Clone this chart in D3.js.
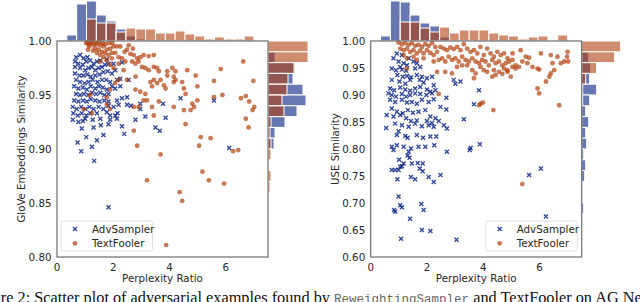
<!DOCTYPE html>
<html>
<head>
<meta charset="utf-8">
<script src="https://cdn.jsdelivr.net/npm/d3@7"></script>
<style>
  body { margin: 0; background: #fff; }
  svg text { font-family: "DejaVu Sans", sans-serif; fill: #262626; }
</style>
</head>
<body>
<svg id="chart" width="640" height="302"></svg>
<script>
// x ticks shared by both panels
const xTicks = [0, 2, 4, 6];
const gloveTicks = [0.80, 0.85, 0.90, 0.95, 1.00];
const useTicks = [0.60, 0.65, 0.70, 0.75, 0.80, 0.85, 0.90, 0.95, 1.00];

// left panel: [perplexity ratio, GloVe similarity]
const gloveAdv = [[0.68,0.985],[0.82,0.987],[0.94,0.984],[1.08,0.985],[0.64,0.981],[0.76,0.979],[0.92,0.978],[1.04,0.981],[1.18,0.982],[1.30,0.979],[1.42,0.981],[1.54,0.982],[1.77,0.983],[0.64,0.976],[0.82,0.975],[1.00,0.973],[1.12,0.975],[1.24,0.976],[1.36,0.973],[1.48,0.975],[1.60,0.976],[1.71,0.978],[1.83,0.979],[2.01,0.979],[2.31,0.980],[0.64,0.970],[0.80,0.968],[0.94,0.968],[1.08,0.969],[1.20,0.967],[1.36,0.968],[1.51,0.969],[1.65,0.971],[1.80,0.972],[1.95,0.970],[2.07,0.973],[0.68,0.964],[0.82,0.962],[0.98,0.961],[1.12,0.962],[1.27,0.964],[1.44,0.962],[1.60,0.964],[1.75,0.964],[1.89,0.962],[2.13,0.964],[2.25,0.965],[2.55,0.964],[0.61,0.958],[0.76,0.956],[0.92,0.957],[1.06,0.955],[1.20,0.958],[1.36,0.956],[1.49,0.958],[1.63,0.957],[1.77,0.955],[1.95,0.958],[2.07,0.956],[2.25,0.958],[0.68,0.951],[0.82,0.950],[0.96,0.951],[1.11,0.950],[1.24,0.952],[1.39,0.951],[1.54,0.952],[1.68,0.950],[1.83,0.951],[0.61,0.945],[0.76,0.944],[0.92,0.945],[1.06,0.944],[1.20,0.946],[1.36,0.945],[1.51,0.944],[1.68,0.945],[1.83,0.944],[2.13,0.945],[2.31,0.947],[2.49,0.948],[0.56,0.939],[0.70,0.937],[0.86,0.939],[1.01,0.937],[1.15,0.939],[1.30,0.937],[1.48,0.939],[1.65,0.937],[1.83,0.940],[2.01,0.939],[2.19,0.941],[2.49,0.941],[2.63,0.940],[2.96,0.942],[0.58,0.933],[0.74,0.931],[0.88,0.933],[1.04,0.931],[1.18,0.933],[1.42,0.933],[1.77,0.934],[1.89,0.931],[2.07,0.931],[2.15,0.933],[0.56,0.927],[0.76,0.925],[0.92,0.926],[1.00,0.928],[1.27,0.927],[1.54,0.928],[1.89,0.927],[2.13,0.928],[2.79,0.927],[3.14,0.930],[3.86,0.929],[3.77,0.942],[2.96,0.937],[4.39,0.947],[5.58,0.945],[0.88,0.919],[1.30,0.920],[1.56,0.922],[1.83,0.923],[2.31,0.921],[3.50,0.920],[3.65,0.917],[1.04,0.911],[1.42,0.908],[1.65,0.913],[2.39,0.914],[0.73,0.906],[1.24,0.902],[6.12,0.901],[0.86,0.898],[1.32,0.889],[1.83,0.846]];
const gloveTF = [[1.04,0.998],[1.12,0.997],[1.20,0.998],[1.30,0.996],[1.42,0.997],[1.54,0.996],[1.65,0.995],[1.15,0.995],[1.36,0.993],[1.48,0.992],[1.60,0.990],[1.71,0.989],[1.77,0.992],[1.89,0.993],[2.01,0.995],[2.13,0.995],[2.25,0.995],[2.49,0.992],[1.42,0.989],[1.54,0.987],[1.83,0.987],[1.95,0.989],[2.07,0.989],[2.19,0.985],[2.31,0.984],[2.61,0.988],[2.73,0.987],[2.85,0.984],[2.96,0.985],[3.08,0.987],[3.26,0.986],[3.44,0.987],[2.43,0.981],[2.67,0.981],[2.79,0.979],[2.90,0.981],[1.54,0.981],[1.77,0.982],[1.89,0.978],[2.19,0.979],[2.01,0.975],[2.37,0.973],[3.02,0.976],[3.14,0.975],[3.26,0.973],[3.44,0.976],[3.56,0.975],[3.62,0.972],[3.92,0.972],[4.10,0.975],[4.21,0.972],[4.15,0.967],[3.92,0.968],[3.68,0.964],[3.44,0.964],[3.56,0.961],[3.32,0.962],[2.79,0.967],[2.49,0.964],[2.19,0.964],[2.07,0.961],[1.89,0.955],[1.77,0.948],[2.79,0.955],[2.96,0.953],[3.14,0.951],[3.08,0.945],[3.20,0.945],[3.38,0.958],[3.80,0.959],[3.86,0.956],[4.15,0.962],[4.21,0.964],[4.45,0.962],[4.51,0.956],[4.57,0.951],[4.63,0.973],[4.93,0.968],[4.99,0.958],[4.81,0.942],[4.87,0.939],[4.99,0.945],[4.75,0.936],[4.51,0.936],[4.15,0.939],[3.62,0.944],[3.38,0.939],[2.90,0.939],[2.73,0.939],[3.44,0.931],[1.89,0.937],[1.77,0.941],[1.24,0.933],[1.18,0.950],[0.94,0.937],[5.58,0.963],[5.82,0.974],[5.58,0.948],[5.88,0.950],[6.54,0.947],[6.71,0.949],[6.83,0.944],[7.01,0.939],[6.95,0.936],[6.98,0.963],[6.62,0.981],[6.71,0.928],[6.81,0.920],[4.57,0.923],[5.11,0.911],[5.46,0.910],[2.73,0.917],[2.85,0.903],[5.05,0.903],[6.26,0.898],[6.44,0.899],[3.68,0.895],[3.20,0.871],[5.17,0.879],[5.40,0.871],[5.94,0.868],[4.36,0.860],[4.45,0.852],[3.88,0.811],[1.08,0.999],[1.25,0.999],[1.36,0.998],[1.50,0.999],[1.62,0.998],[1.72,0.997],[1.85,0.998],[1.97,0.998],[1.28,0.991],[1.10,0.992],[1.66,0.985],[1.95,0.984],[2.40,0.990],[2.70,0.993],[2.55,0.996]];

// right panel: [perplexity ratio, USE similarity]
const useAdv = [[0.93,0.977],[1.11,0.974],[1.35,0.968],[0.81,0.968],[0.99,0.962],[1.17,0.959],[1.05,0.952],[1.29,0.955],[1.52,0.962],[1.64,0.959],[0.75,0.949],[0.90,0.946],[1.11,0.947],[1.26,0.945],[1.58,0.949],[1.76,0.952],[0.95,0.937],[1.14,0.934],[1.29,0.935],[1.43,0.933],[1.64,0.937],[1.82,0.934],[2.00,0.931],[2.18,0.934],[0.75,0.928],[1.02,0.925],[1.23,0.921],[1.40,0.928],[1.74,0.928],[1.88,0.923],[2.24,0.918],[2.95,0.928],[3.19,0.925],[3.01,0.921],[0.69,0.912],[0.83,0.909],[1.05,0.914],[1.23,0.910],[1.40,0.908],[1.58,0.912],[1.76,0.915],[2.00,0.910],[2.12,0.906],[2.30,0.909],[0.63,0.903],[0.75,0.900],[0.90,0.897],[1.11,0.902],[1.26,0.897],[1.40,0.900],[1.58,0.903],[1.76,0.902],[1.98,0.900],[2.18,0.903],[2.69,0.895],[0.69,0.891],[0.87,0.887],[1.11,0.891],[1.29,0.886],[1.46,0.887],[1.64,0.884],[1.82,0.891],[2.06,0.887],[2.24,0.892],[2.48,0.878],[0.75,0.875],[0.93,0.869],[1.14,0.866],[1.32,0.872],[1.50,0.867],[1.70,0.869],[1.94,0.872],[2.12,0.860],[2.30,0.857],[2.69,0.873],[3.31,0.855],[3.67,0.883],[3.85,0.909],[0.57,0.863],[0.81,0.860],[1.05,0.863],[1.26,0.857],[1.43,0.852],[1.64,0.853],[2.00,0.852],[2.18,0.848],[2.42,0.852],[0.87,0.847],[1.11,0.844],[1.35,0.841],[1.58,0.847],[1.82,0.842],[2.06,0.844],[2.24,0.841],[2.60,0.844],[2.71,0.838],[0.55,0.839],[0.99,0.833],[0.93,0.826],[1.23,0.824],[1.31,0.821],[1.64,0.826],[1.86,0.821],[2.12,0.823],[2.33,0.823],[0.75,0.804],[0.93,0.807],[1.17,0.804],[1.43,0.801],[1.70,0.804],[1.94,0.804],[2.26,0.807],[3.55,0.802],[3.88,0.809],[0.81,0.798],[1.35,0.795],[2.71,0.795],[3.52,0.798],[1.01,0.780],[1.31,0.788],[1.38,0.784],[1.46,0.773],[1.17,0.773],[1.05,0.767],[0.75,0.761],[0.87,0.761],[0.99,0.761],[1.11,0.768],[1.67,0.774],[1.85,0.773],[1.74,0.764],[1.85,0.759],[0.95,0.744],[1.43,0.748],[1.58,0.744],[2.06,0.748],[2.24,0.739],[2.48,0.752],[5.63,0.752],[6.05,0.764],[0.99,0.712],[1.05,0.696],[1.11,0.692],[0.83,0.687],[0.87,0.684],[1.80,0.698],[1.88,0.687],[1.40,0.671],[1.82,0.650],[2.12,0.648],[1.08,0.634],[3.05,0.632],[6.23,0.675]];
const useTF = [[0.99,0.997],[1.11,0.994],[1.23,0.996],[1.35,0.993],[1.46,0.996],[1.58,0.991],[1.70,0.993],[1.82,0.989],[1.94,0.994],[2.06,0.991],[2.18,0.996],[2.30,0.989],[1.05,0.986],[1.17,0.983],[1.29,0.986],[1.40,0.980],[1.52,0.983],[1.64,0.977],[1.76,0.982],[1.88,0.977],[2.00,0.983],[2.12,0.978],[2.24,0.974],[2.36,0.980],[2.48,0.989],[2.60,0.986],[2.71,0.983],[2.83,0.988],[2.95,0.985],[3.07,0.989],[3.19,0.983],[3.31,0.994],[3.43,0.986],[3.55,0.980],[3.67,0.983],[3.79,0.977],[3.90,0.989],[4.02,0.974],[4.14,0.986],[4.26,0.977],[4.38,0.971],[4.50,0.980],[4.62,0.974],[4.74,0.977],[4.86,0.968],[5.04,0.977],[5.33,0.983],[5.51,0.971],[5.63,0.969],[6.05,0.977],[6.40,0.974],[6.64,0.971],[7.00,0.980],[6.98,0.971],[7.02,0.962],[1.29,0.968],[1.64,0.965],[1.88,0.968],[2.24,0.962],[2.42,0.965],[2.54,0.968],[2.65,0.962],[2.77,0.971],[2.89,0.965],[3.01,0.968],[3.13,0.962],[3.25,0.971],[3.37,0.965],[3.49,0.962],[3.61,0.968],[3.73,0.962],[3.85,0.959],[3.96,0.965],[4.08,0.962],[4.20,0.955],[4.32,0.965],[4.44,0.959],[4.56,0.962],[4.68,0.955],[4.80,0.959],[4.92,0.962],[5.04,0.965],[5.15,0.955],[5.27,0.952],[5.39,0.962],[5.57,0.959],[5.75,0.952],[5.93,0.949],[5.99,0.947],[6.46,0.959],[6.52,0.946],[6.76,0.959],[6.88,0.962],[3.07,0.952],[3.25,0.955],[3.43,0.955],[3.61,0.946],[3.73,0.940],[3.90,0.952],[4.02,0.946],[4.14,0.943],[4.38,0.946],[4.56,0.943],[4.74,0.949],[4.86,0.946],[5.04,0.952],[1.29,0.949],[2.36,0.943],[2.65,0.943],[2.89,0.940],[3.67,0.931],[4.32,0.934],[4.44,0.937],[4.68,0.939],[4.86,0.943],[4.98,0.934],[5.15,0.949],[6.40,0.940],[6.35,0.934],[6.23,0.925],[5.93,0.912],[5.99,0.903],[2.42,0.902],[3.90,0.884],[3.99,0.886],[3.85,0.881],[4.36,0.872],[6.70,0.881],[1.52,0.971],[1.17,0.974],[5.39,0.735]];

// marginal histograms (counts)
const topBinStart = 0.35, topBinWidth = 0.35;
const gloveTopAdv = [6, 37, 40, 26, 20, 12, 5, 2, 1, 1, 0, 0, 0, 0, 0, 0, 1, 0, 0];
const gloveTopTF  = [0, 0, 22, 18, 18, 9, 13, 12, 12, 8, 8, 10, 7, 5, 2, 4, 2, 2, 5];
const useTopAdv   = [5, 40, 39, 26, 18, 15, 4, 1, 1, 0, 0, 0, 0, 0, 0, 1, 0, 0, 0];
const useTopTF    = [0, 0, 19, 19, 13, 9, 14, 8, 11, 11, 11, 8, 6, 5, 2, 4, 5, 1, 6];
// side bins run downward from 1.00
const gloveSideAdv = [0, 7, 27, 25, 35, 38, 29, 17, 7, 6, 1, 0, 0, 0];
const gloveSideTF  = [40, 40, 26, 20, 19, 14, 16, 3, 2, 3, 3, 0, 3, 2];
const useSideAdv   = [0, 7, 9, 8, 15, 8, 4, 7, 4, 5, 2, 4, 3, 0, 0, 2, 0];
const useSideTF    = [39, 33, 15, 4, 1, 1, 0, 0, 0, 0, 0, 0, 0, 0, 0, 0, 0];

const blue = "#001c7f", orange = "#b1400d";

const svg = d3.select("#chart");
const plotTop = 41, plotBottom = 257;
const lenScale = d3.scaleLinear().domain([0, 40]).range([0, 40]);

function drawPanel(cfg) {
  const g = svg.append("g");
  const x = d3.scaleLinear().domain([0, 7.5]).range([cfg.left, cfg.left + 211]);
  const y = d3.scaleLinear().domain(cfg.yDomain).range([plotBottom, plotTop]);
  const right = x(7.5);

  // top histogram, blue first then orange over it
  [[cfg.topAdv, blue], [cfg.topTF, orange]].forEach(([counts, col]) => {
    g.append("g").selectAll("rect")
      .data(counts.map((c, i) => ({c, i})).filter(d => d.c > 0))
      .enter().append("rect")
      .attr("x", d => x(topBinStart + d.i * topBinWidth))
      .attr("width", d => x(topBinStart + (d.i + 1) * topBinWidth) - x(topBinStart + d.i * topBinWidth))
      .attr("y", d => plotTop - lenScale(d.c))
      .attr("height", d => lenScale(d.c))
      .attr("fill", col).attr("fill-opacity", 0.6)
      .attr("stroke", "#fff").attr("stroke-width", 1);
  });

  // side histogram
  [[cfg.sideAdv, blue], [cfg.sideTF, orange]].forEach(([counts, col]) => {
    g.append("g").selectAll("rect")
      .data(counts.map((c, i) => ({c, i})).filter(d => d.c > 0))
      .enter().append("rect")
      .attr("x", right)
      .attr("width", d => lenScale(d.c))
      .attr("y", d => y(1 - d.i * cfg.sideBin))
      .attr("height", d => y(1 - (d.i + 1) * cfg.sideBin) - y(1 - d.i * cfg.sideBin))
      .attr("fill", col).attr("fill-opacity", 0.6)
      .attr("stroke", "#fff").attr("stroke-width", 1);
  });

  // points
  g.append("g").selectAll("path")
    .data(cfg.adv).enter().append("path")
    .attr("transform", d => `translate(${x(d[0])},${y(d[1])})`)
    .attr("d", "M-2,-2L2,2M-2,2L2,-2")
    .attr("stroke", blue).attr("stroke-width", 1.4).attr("stroke-opacity", 0.8);

  g.append("g").selectAll("circle")
    .data(cfg.tf).enter().append("circle")
    .attr("cx", d => x(d[0])).attr("cy", d => y(d[1]))
    .attr("r", 2.4)
    .attr("fill", orange).attr("fill-opacity", 0.7);

  // frame
  g.append("rect")
    .attr("x", x(0)).attr("y", plotTop)
    .attr("width", right - x(0)).attr("height", plotBottom - plotTop)
    .attr("fill", "none").attr("stroke", "#6e6e6e").attr("stroke-width", 1.2);

  // tick labels
  g.selectAll(".xt").data(xTicks).enter().append("text")
    .attr("x", d => x(d)).attr("y", 270.5)
    .attr("text-anchor", "middle").attr("font-size", 10.3)
    .text(d => d);
  g.selectAll(".yt").data(cfg.yTicks).enter().append("text")
    .attr("x", x(0) - 5.5).attr("y", d => y(d))
    .attr("dy", "0.36em")
    .attr("text-anchor", "end").attr("font-size", 10.3)
    .text(d => d3.format(".2f")(d));

  g.append("text")
    .attr("x", (x(0) + right) / 2).attr("y", 281.5)
    .attr("text-anchor", "middle").attr("font-size", 10.3)
    .text("Perplexity Ratio");
  g.append("text")
    .attr("transform", `translate(${cfg.labelX},${(plotTop + plotBottom) / 2}) rotate(-90)`)
    .attr("text-anchor", "middle").attr("font-size", 10.2)
    .text(cfg.yLabel);

  // legend
  const lg = g.append("g").attr("transform", `translate(${cfg.legendX},221)`);
  lg.append("rect")
    .attr("width", 91.5).attr("height", 30).attr("rx", 2.5)
    .attr("fill", "#fff").attr("fill-opacity", 0.8)
    .attr("stroke", "#d6d6d6").attr("stroke-width", 0.8);
  lg.append("path")
    .attr("transform", "translate(14,8)")
    .attr("d", "M-2,-2L2,2M-2,2L2,-2")
    .attr("stroke", blue).attr("stroke-width", 1.4).attr("stroke-opacity", 0.8);
  lg.append("circle").attr("cx", 14).attr("cy", 22.3).attr("r", 2.4)
    .attr("fill", orange).attr("fill-opacity", 0.7);
  lg.append("text").attr("x", 31).attr("y", 8).attr("dy", "0.36em")
    .attr("font-size", 10.3).text("AdvSampler");
  lg.append("text").attr("x", 31).attr("y", 22.3).attr("dy", "0.36em")
    .attr("font-size", 10.3).text("TextFooler");
}

drawPanel({
  left: 57, yDomain: [0.8, 1.0], yTicks: gloveTicks, yLabel: "GloVe Embeddings Similarity",
  labelX: 24.5, legendX: 61, adv: gloveAdv, tf: gloveTF,
  topAdv: gloveTopAdv, topTF: gloveTopTF, sideAdv: gloveSideAdv, sideTF: gloveSideTF, sideBin: 0.01
});
drawPanel({
  left: 370.7, yDomain: [0.6, 1.0], yTicks: useTicks, yLabel: "USE Similarity",
  labelX: 338.5, legendX: 485.7, adv: useAdv, tf: useTF,
  topAdv: useTopAdv, topTF: useTopTF, sideAdv: useSideAdv, sideTF: useSideTF, sideBin: 0.02
});

// caption, cut off by the bottom edge as in the source figure
const cap = svg.append("text").attr("x", -29).attr("y", 303)
  .style("font-family", "'Liberation Serif', serif").attr("font-size", 16.3).style("fill", "#111");
cap.append("tspan").text("Figure 2: Scatter plot of adversarial examples found by ");
cap.append("tspan").style("font-family", "'Liberation Mono', monospace").attr("font-size", 12.5)
  .style("fill", "#666").text("ReweightingSampler");
cap.append("tspan").text(" and TextFooler on AG News");
</script>
</body>
</html>
